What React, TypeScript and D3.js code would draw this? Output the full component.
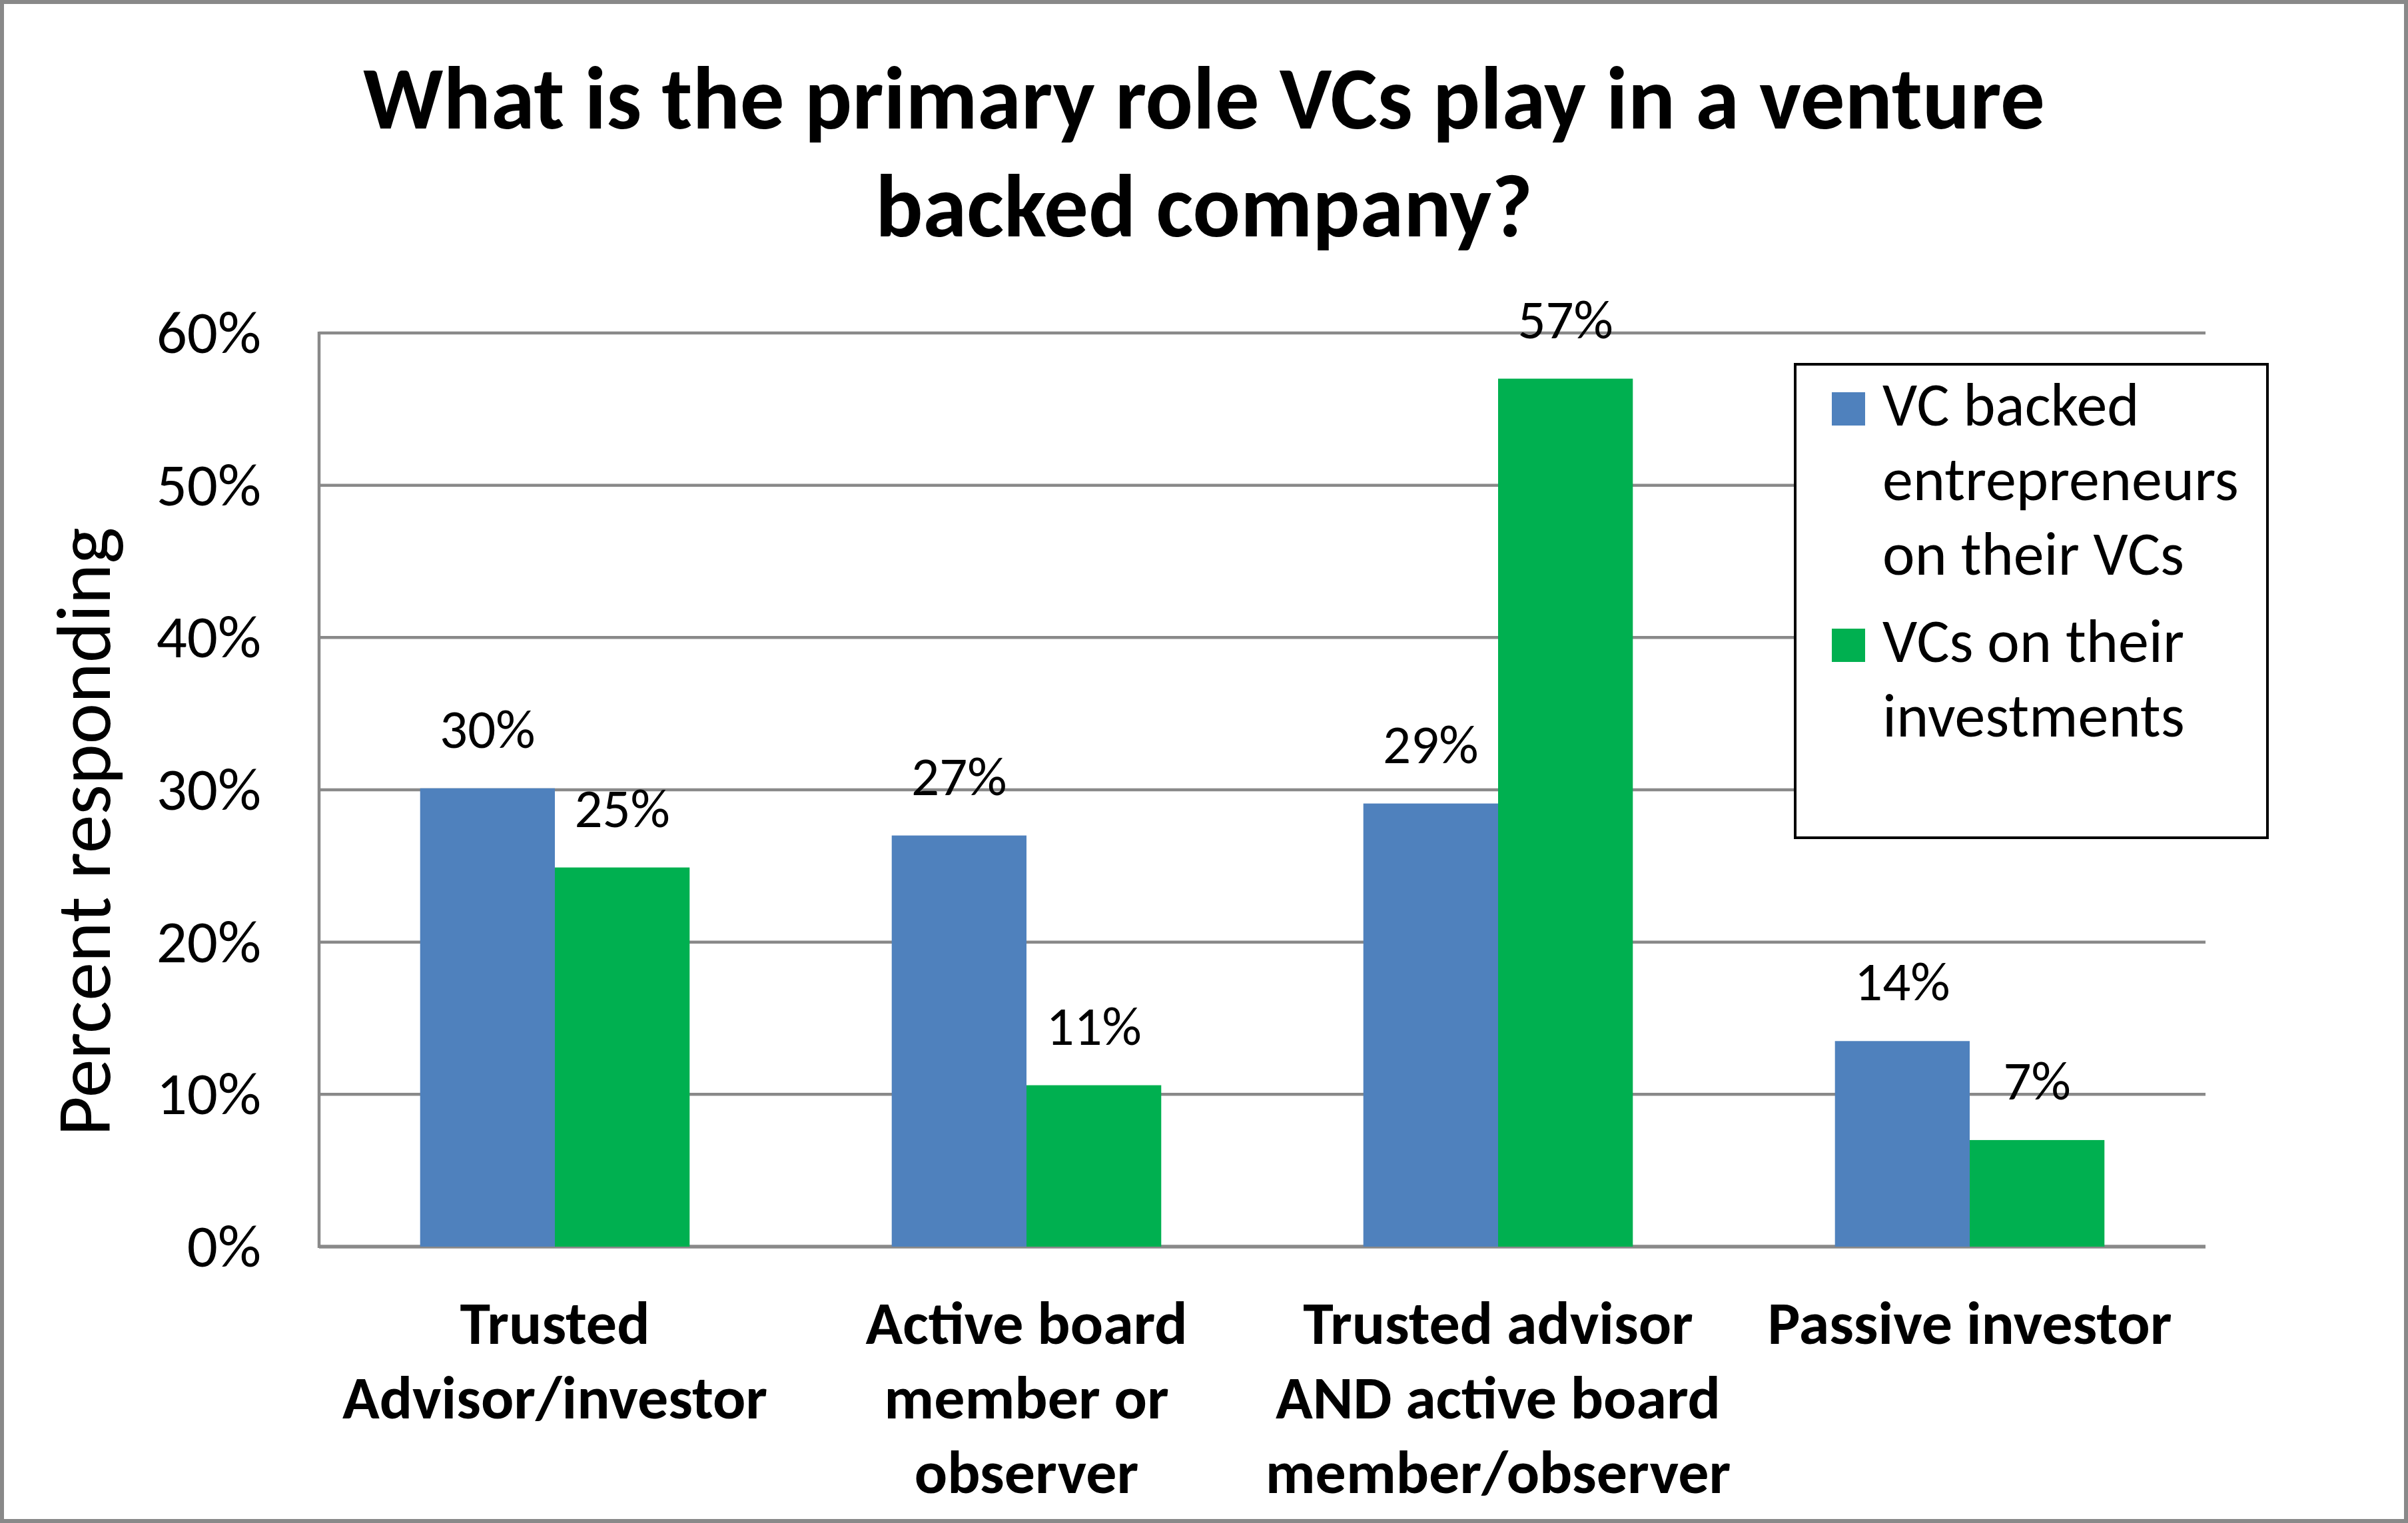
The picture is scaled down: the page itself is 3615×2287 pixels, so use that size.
import React, { useRef, useEffect } from 'react';
import * as d3 from 'd3';

// Chart data
const titleLines = ['What is the primary role VCs play in a venture', 'backed company?'];
const yAxisTitle = 'Percent responding';
const categories = ['trusted', 'active', 'both', 'passive'];
const categoryLines: string[][] = [
    ['Trusted', 'Advisor/investor'],
    ['Active board', 'member or', 'observer'],
    ['Trusted advisor', 'AND active board', 'member/observer'],
    ['Passive investor'],
];
const seriesKeys = ['entrepreneurs', 'vcs'];
const seriesLegendLines: string[][] = [
    ['VC backed', 'entrepreneurs', 'on their VCs'],
    ['VCs on their', 'investments'],
];
const entrepreneurValues = [30.1, 27.0, 29.1, 13.5];
const vcValues = [24.9, 10.6, 57.0, 7.0];
const yTicks = [0, 10, 20, 30, 40, 50, 60];

const W = 3615;
const H = 2287;
const FONT = 'Carlito, Calibri, Lato, sans-serif';
const colors = ['#4F81BD', '#00B050'];
const axisGray = '#898989';

const App: React.FC = () => {
    const svgRef = useRef<SVGSVGElement>(null);

    useEffect(() => {
        if (!svgRef.current) return;
        const svg = d3.select(svgRef.current);
        svg.selectAll('*').remove();

        const plot = { left: 479, right: 3311, top: 500, bottom: 1872 };

        // background + outer border
        svg.append('rect')
            .attr('x', 3).attr('y', 3)
            .attr('width', W - 6).attr('height', H - 6)
            .attr('fill', '#fff')
            .attr('stroke', axisGray)
            .attr('stroke-width', 6);

        // Title
        const title = svg.append('text')
            .attr('x', W / 2)
            .attr('text-anchor', 'middle')
            .attr('font-family', FONT)
            .attr('font-weight', 'bold')
            .attr('font-size', 133)
            .attr('fill', '#000');
        titleLines.forEach((line, i) => {
            title.append('tspan').attr('x', W / 2).attr('y', 193 + i * 162).text(line);
        });

        // Scales
        const x0 = d3.scaleBand<string>()
            .domain(categories)
            .range([plot.left, plot.right])
            .paddingInner(1.5 / 3.5)
            .paddingOuter(0.75 / 3.5);
        const x1 = d3.scaleBand<string>()
            .domain(seriesKeys)
            .range([0, x0.bandwidth()])
            .padding(0);
        const y = d3.scaleLinear().domain([0, 60]).range([plot.bottom, plot.top]);

        // Gridlines
        svg.append('g')
            .selectAll('line')
            .data(yTicks)
            .join('line')
            .attr('x1', plot.left)
            .attr('x2', plot.right)
            .attr('y1', d => y(d))
            .attr('y2', d => y(d))
            .attr('stroke', axisGray)
            .attr('stroke-width', d => (d === 0 ? 5.5 : 4.5));

        // y axis line
        svg.append('line')
            .attr('x1', plot.left).attr('x2', plot.left)
            .attr('y1', plot.top - 2).attr('y2', plot.bottom + 2)
            .attr('stroke', axisGray)
            .attr('stroke-width', 4.5);

        // y tick labels
        svg.append('g')
            .selectAll('text')
            .data(yTicks)
            .join('text')
            .attr('x', 392)
            .attr('y', d => y(d))
            .attr('dy', '0.33em')
            .attr('text-anchor', 'end')
            .attr('font-family', FONT)
            .attr('font-size', 91)
            .attr('fill', '#000')
            .text(d => `${d}%`);

        // y axis title
        svg.append('text')
            .attr('transform', `translate(165,1249) rotate(-90)`)
            .attr('text-anchor', 'middle')
            .attr('font-family', FONT)
            .attr('font-size', 116)
            .attr('fill', '#000')
            .text(yAxisTitle);

        // Bars
        const seriesValues = [entrepreneurValues, vcValues];
        seriesKeys.forEach((key, si) => {
            const values = seriesValues[si];
            const g = svg.append('g');
            g.selectAll('rect')
                .data(values)
                .join('rect')
                .attr('x', (_, i) => (x0(categories[i]) ?? 0) + (x1(key) ?? 0))
                .attr('y', d => y(d))
                .attr('width', x1.bandwidth())
                .attr('height', d => plot.bottom - y(d))
                .attr('fill', colors[si]);

            g.selectAll('text')
                .data(values)
                .join('text')
                .attr('x', (_, i) => (x0(categories[i]) ?? 0) + (x1(key) ?? 0) + x1.bandwidth() / 2)
                .attr('y', d => y(d) - 61)
                .attr('text-anchor', 'middle')
                .attr('font-family', FONT)
                .attr('font-size', 83)
                .attr('fill', '#000')
                .text(d => `${Math.round(d)}%`);
        });

        // Category labels
        categories.forEach((c, i) => {
            const cx = (x0(c) ?? 0) + x0.bandwidth() / 2;
            const t = svg.append('text')
                .attr('text-anchor', 'middle')
                .attr('font-family', FONT)
                .attr('font-weight', 'bold')
                .attr('font-size', 92)
                .attr('fill', '#000');
            categoryLines[i].forEach((line, li) => {
                t.append('tspan').attr('x', cx).attr('y', 2018 + li * 112).text(line);
            });
        });

        // Legend
        const legend = svg.append('g');
        legend.append('rect')
            .attr('x', 2695).attr('y', 547)
            .attr('width', 709).attr('height', 711)
            .attr('fill', '#fff')
            .attr('stroke', '#000')
            .attr('stroke-width', 4);

        const entryBaselines = [639, 994];
        seriesLegendLines.forEach((lines, si) => {
            const base = entryBaselines[si];
            legend.append('rect')
                .attr('x', 2750).attr('y', base - 50)
                .attr('width', 50).attr('height', 50)
                .attr('fill', colors[si]);
            const t = legend.append('text')
                .attr('font-family', FONT)
                .attr('font-size', 92)
                .attr('fill', '#000');
            lines.forEach((line, li) => {
                t.append('tspan').attr('x', 2826).attr('y', base + li * 112).text(line);
            });
        });
    }, []);

    return (
        <svg
            ref={svgRef}
            width={W}
            height={H}
            viewBox={`0 0 ${W} ${H}`}
            style={{ position: 'absolute', left: 0, top: 0, display: 'block' }}
        />
    );
};

export default App;
